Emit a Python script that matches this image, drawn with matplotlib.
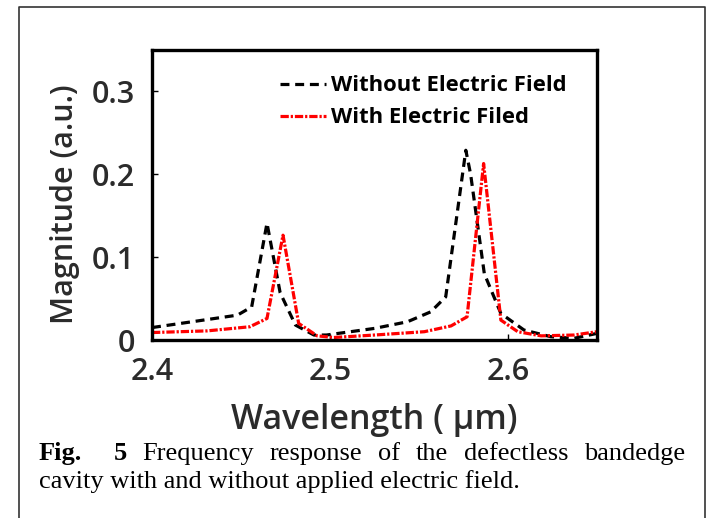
import matplotlib
matplotlib.use('Agg')
from matplotlib import pyplot as plt
from matplotlib.lines import Line2D

# values
wl_off = [2.400, 2.448, 2.456, 2.4646, 2.472, 2.4806, 2.491, 2.498, 2.525, 2.5435,
          2.5566, 2.565, 2.5763, 2.579, 2.5867, 2.596, 2.609, 2.624, 2.637, 2.650]
mag_off = [0.015, 0.030, 0.040, 0.141, 0.057, 0.018, 0.006, 0.006, 0.014, 0.022,
           0.034, 0.052, 0.229, 0.200, 0.080, 0.032, 0.012, 0.004, 0.002, 0.008]
wl_on = [2.400, 2.431, 2.455, 2.4646, 2.4736, 2.4824, 2.4928, 2.502, 2.525, 2.553,
         2.568, 2.577, 2.5863, 2.596, 2.6055, 2.6186, 2.637, 2.650]
mag_on = [0.009, 0.011, 0.016, 0.026, 0.1265, 0.020, 0.005, 0.003, 0.006, 0.010,
          0.017, 0.028, 0.213, 0.024, 0.010, 0.005, 0.006, 0.010]
xticks = [2.4, 2.5, 2.6]
yticks = [0, 0.1, 0.2, 0.3]

W, H = 710, 518
fig = plt.figure(figsize=(W / 100, H / 100), dpi=100)
ax = fig.add_axes([152 / W, 1 - 340 / H, 445 / W, 290 / H])

lw = 2.3
ax.plot(wl_off, mag_off, color='black', lw=lw, dashes=(2.8, 1.8),
        label='Without Electric Field')
ax.plot(wl_on, mag_on, color='red', lw=lw, dashes=(2.6, 0.6, 0.7, 0.6),
        label='With Electric Filed')

ax.set_xlim(2.4, 2.65)
ax.set_ylim(0, 0.35)
ax.set_xticks(xticks)
ax.set_yticks(yticks)
ax.set_xticklabels(['2.4', '2.5', '2.6'])
ax.set_yticklabels(['0', '0.1', '0.2', '0.3'])
ax.tick_params(direction='in', length=4, width=1, labelsize=22,
               labelcolor='#2b2b2b')
ax.tick_params(axis='y', pad=12)
ax.tick_params(axis='x', pad=12)
for lab in ax.get_xticklabels() + ax.get_yticklabels():
    lab.set_fontfamily('Open Sans')
    lab.set_fontweight('semibold')
for s in ax.spines.values():
    s.set_linewidth(2.4)

ax.set_xlabel('Wavelength ( µm)', fontsize=24.5, family='Open Sans',
              fontweight='semibold', color='#2b2b2b')
ax.xaxis.set_label_coords(0.5, -0.218)
ax.set_ylabel('Magnitude (a.u.)', fontsize=22, family='Open Sans',
              fontweight='semibold', color='#2b2b2b')
ax.yaxis.set_label_coords(-0.162, 0.469)

leg = ax.legend(loc='upper left', bbox_to_anchor=(0.288, 0.913), frameon=False,
                handlelength=2.1, handletextpad=0.2, labelspacing=0.5,
                borderpad=0, borderaxespad=0,
                prop={'family': 'Open Sans', 'weight': 'bold', 'size': 15.8})

# outer frame around the whole figure panel
fx = lambda px: px / W
fy = lambda py: 1 - py / H
fig.add_artist(Line2D([fx(19), fx(19), fx(705), fx(705)], [0, fy(7), fy(7), 0],
                      transform=fig.transFigure, color='#333333', lw=1.2))

# caption, first line justified
words = [('Fig.', 'bold'), ('5', 'bold'), ('Frequency', 'normal'), ('response', 'normal'),
         ('of', 'normal'), ('the', 'normal'), ('defectless', 'normal'), ('bandedge', 'normal')]
cap_size = 19
renderer = fig.canvas.get_renderer()
texts = []
for w, wt in words:
    t = fig.text(0, fy(460), w, fontsize=cap_size, family='Liberation Serif',
                 fontweight=wt, va='baseline', ha='left')
    texts.append(t)
widths = [t.get_window_extent(renderer).width for t in texts]
x0, x1 = 39, 685
gaps = [2] + [1] * (len(words) - 2)
unit = (x1 - x0 - sum(widths)) / sum(gaps)
x = x0
for i, t in enumerate(texts):
    t.set_x(fx(x))
    x += widths[i]
    if i < len(gaps):
        x += gaps[i] * unit
fig.text(fx(39), fy(488), 'cavity with and without applied electric field.',
         fontsize=cap_size, family='Liberation Serif', va='baseline', ha='left')

fig.savefig('out.png', dpi=100)
